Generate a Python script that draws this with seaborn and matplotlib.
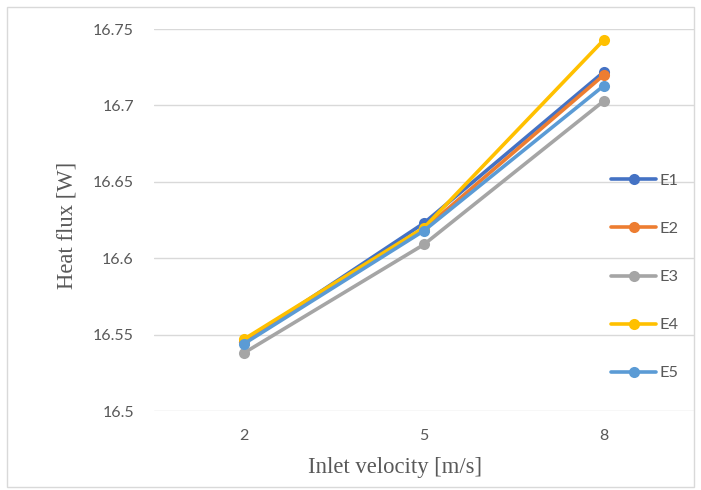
import matplotlib
matplotlib.use("Agg")
import matplotlib.pyplot as plt
import seaborn as sns
import pandas as pd
from matplotlib.patches import Rectangle

categories = ["2", "5", "8"]
series_names = ["E1", "E2", "E3", "E4", "E5"]
E1 = [16.545, 16.623, 16.722]
E2 = [16.545, 16.619, 16.720]
E3 = [16.538, 16.609, 16.703]
E4 = [16.547, 16.620, 16.743]
E5 = [16.544, 16.618, 16.713]
y_ticks = [16.5, 16.55, 16.6, 16.65, 16.7, 16.75]
y_tick_labels = ["16.5", "16.55", "16.6", "16.65", "16.7", "16.75"]
colors = ["#4472C4", "#ED7D31", "#A5A5A5", "#FFC000", "#5B9BD5"]

rows = []
for name, vals in zip(series_names, [E1, E2, E3, E4, E5]):
    for c, v in zip(categories, vals):
        rows.append({"Inlet velocity": c, "Heat flux": v, "Series": name})
df = pd.DataFrame(rows)

sns.set_style("white")
fig = plt.figure(figsize=(7.01, 4.90), dpi=100)
L, R, T, B = 154, 694, 29, 411
ax = fig.add_axes([L/701, 1-B/490, (R-L)/701, (B-T)/490])

sns.lineplot(data=df, x="Inlet velocity", y="Heat flux", hue="Series",
             palette=colors, hue_order=series_names, marker="o",
             markersize=8, markeredgewidth=0, linewidth=2.6, ax=ax,
             sort=False)

ax.set_xlim(-0.5, 2.5)
ax.set_ylim(16.5, 16.75)
ax.set_yticks(y_ticks)
ax.set_yticklabels(y_tick_labels)
ax.yaxis.grid(True, color="#D9D9D9", linewidth=1.0)
ax.set_axisbelow(True)
for s in ax.spines.values():
    s.set_visible(False)
ax.tick_params(axis="both", length=0, labelsize=11.5, labelcolor="#595959")
ax.tick_params(axis="y", pad=14.5)
ax.tick_params(axis="x", pad=13)
for lab in ax.get_xticklabels() + ax.get_yticklabels():
    lab.set_family("Lato")

ax.set_xlabel("Inlet velocity [m/s]", family="Liberation Serif", fontsize=16.3,
              color="#595959")
ax.set_ylabel("Heat flux [W]", family="Liberation Serif", fontsize=16.3,
              color="#595959")
ax.xaxis.set_label_coords((395-L)/(R-L), -(457-B)/(B-T))
ax.yaxis.set_label_coords(-(L-77)/(R-L), (B-225)/(B-T))

ax.legend_.remove()
handles, labels = ax.get_legend_handles_labels()
leg = fig.legend(handles, labels, loc="center left",
                 bbox_to_anchor=(611/701, 1-277/490), frameon=False,
                 borderpad=0, borderaxespad=0, handlelength=2.75,
                 handletextpad=0.2, labelspacing=2.05,
                 prop={"family": "Lato", "size": 11.8})
for t in leg.get_texts():
    t.set_color("#595959")

fig.patches.append(Rectangle((7/701, 3/490), 1-14/701, 1-10/490,
                             transform=fig.transFigure, fill=False,
                             edgecolor="#D9D9D9", linewidth=1.0))

fig.savefig("out.png", dpi=100)
